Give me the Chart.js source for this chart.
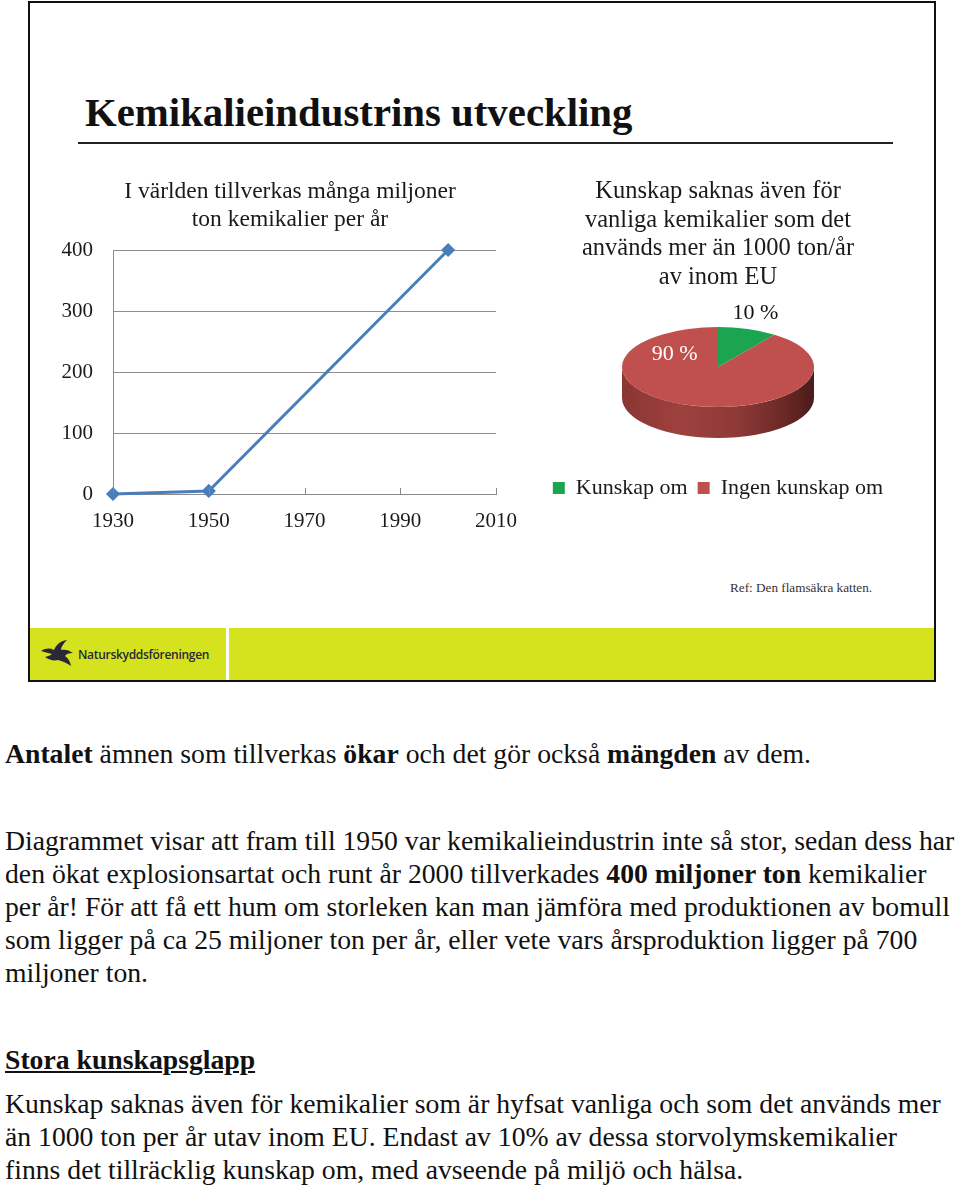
<!DOCTYPE html>
<html>
<head>
<meta charset="utf-8">
<script src="https://cdn.jsdelivr.net/npm/chart.js@4/dist/chart.umd.min.js"></script>
<style>
  html, body { margin:0; padding:0; background:#fff; width:960px; height:1187px; overflow:hidden; }
  .abs { position:absolute; }
  #slide { left:28px; top:1px; width:904px; height:677px; border:2px solid #111; }
  #title { left:85px; top:91px; font-family:"Liberation Serif", serif; font-weight:bold; font-size:40.8px; line-height:44px; color:#111; white-space:nowrap; }
  #rule { left:78px; top:142px; width:815px; height:2px; background:#222; }
  #ref { left:730px; top:580px; font-family:"Liberation Serif", serif; font-size:13.2px; color:#333; white-space:nowrap; }
  #footer { left:30px; top:628px; width:904px; height:52px; background:#d5e31e; }
  #sep { left:226px; top:628px; width:3px; height:52px; background:#fff; }
  #logoText { left:78px; top:646px; font-family:"Open Sans", sans-serif; font-weight:600; font-size:12px; letter-spacing:-0.3px; color:#2a2838; white-space:nowrap; }
  .txt { left:5px; font-family:"Liberation Serif", serif; font-size:27.7px; line-height:33px; color:#111; white-space:nowrap; }
</style>
</head>
<body>
<div id="slide" class="abs"></div>
<div id="title" class="abs">Kemikalieindustrins utveckling</div>
<div id="rule" class="abs"></div>
<canvas id="lineChart" class="abs" width="484" height="370" style="left:48px;top:170px;"></canvas>
<canvas id="pieChart" class="abs" width="360" height="339" style="left:538px;top:170px;"></canvas>
<div id="ref" class="abs">Ref: Den flamsäkra katten.</div>
<div id="footer" class="abs"></div>
<div id="sep" class="abs"></div>
<svg class="abs" style="left:40px;top:639px" width="36" height="30" viewBox="0 0 36 30">
  <path d="M1 12 C6 9 10 9 14 11 C16 6 20 2 27 1 C23 5 21 8 21 11 C25 10 29 11 33 14 C29 14 26 15 25 17 C28 19 30 22 31 27 C27 24 22 22 18 21 C14 22 9 21 5 18 C9 17 11 16 12 15 C8 14 4 13 1 12 Z" fill="#2a2838"/>
</svg>
<div id="logoText" class="abs">Naturskyddsföreningen</div>

<div class="abs txt" style="top:737px"><b>Antalet</b> ämnen som tillverkas <b>ökar</b> och det gör också <b>mängden</b> av dem.</div>
<div class="abs txt" style="top:824px">Diagrammet visar att fram till 1950 var kemikalieindustrin inte så stor, sedan dess har<br>den ökat explosionsartat och runt år 2000 tillverkades <b>400 miljoner ton</b> kemikalier<br>per år! För att få ett hum om storleken kan man jämföra med produktionen av bomull<br>som ligger på ca 25 miljoner ton per år, eller vete vars årsproduktion ligger på 700<br>miljoner ton.</div>
<div class="abs txt" style="top:1043px"><b><u>Stora kunskapsglapp</u></b></div>
<div class="abs txt" style="top:1087px">Kunskap saknas även för kemikalier som är hyfsat vanliga och som det används mer<br>än 1000 ton per år utav inom EU. Endast av 10% av dessa storvolymskemikalier<br>finns det tillräcklig kunskap om, med avseende på miljö och hälsa.</div>

<script>
// ---- data ----
const years = [1930, 1950, 2000];
const tonnes = [0, 5, 400];
const xTickValues = [1930, 1950, 1970, 1990, 2010];
const yTickValues = [0, 100, 200, 300, 400];
const lineTitle = ['I världen tillverkas många miljoner', 'ton kemikalier per år'];

const pieLabels = ['Kunskap om', 'Ingen kunskap om'];
const pieValues = [10, 90];
const pieTitle = ['Kunskap saknas även för', 'vanliga kemikalier som det', 'används mer än 1000 ton/år', 'av inom EU'];

const serif = 'Liberation Serif';

// inward tick marks on the x axis
const innerTicks = {
  id: 'innerTicks',
  afterDatasetsDraw(chart) {
    const xs = chart.scales.x, ctx = chart.ctx;
    const bottom = chart.chartArea.bottom;
    ctx.save();
    ctx.strokeStyle = '#888';
    ctx.lineWidth = 1;
    xs.ticks.forEach(t => {
      const px = Math.round(xs.getPixelForValue(t.value)) + 0.5;
      ctx.beginPath();
      ctx.moveTo(px, bottom);
      ctx.lineTo(px, bottom - 6);
      ctx.stroke();
    });
    ctx.restore();
  }
};

new Chart(document.getElementById('lineChart'), {
  type: 'line',
  data: {
    datasets: [{
      data: years.map((y, i) => ({ x: y, y: tonnes[i] })),
      borderColor: '#4a7ebb',
      backgroundColor: '#4a7ebb',
      pointBackgroundColor: '#4a7ebb',
      pointBorderColor: '#4a7ebb',
      borderWidth: 3,
      pointStyle: 'rectRot',
      pointRadius: 5,
      tension: 0,
      clip: false
    }]
  },
  options: {
    responsive: false,
    animation: false,
    devicePixelRatio: 1,
    layout: { padding: 0 },
    plugins: {
      legend: { display: false },
      tooltip: { enabled: false },
      title: {
        display: true,
        text: lineTitle,
        color: '#1a1a1a',
        font: { family: serif, size: 23.5, weight: 'normal', lineHeight: 28 / 23.5 },
        padding: { top: 8, bottom: 16 }
      }
    },
    scales: {
      x: {
        type: 'linear',
        min: 1930, max: 2010,
        afterBuildTicks: s => { s.ticks = xTickValues.map(v => ({ value: v })); },
        ticks: { color: '#1a1a1a', font: { family: serif, size: 21 }, padding: 15, maxRotation: 0, autoSkip: false, callback: v => String(v) },
        grid: { drawOnChartArea: false, drawTicks: false },
        border: { color: '#8a8a8a', width: 1 },
        afterFit: s => { s.height = 46; }
      },
      y: {
        min: 0, max: 400,
        afterBuildTicks: s => { s.ticks = yTickValues.map(v => ({ value: v })); },
        ticks: { color: '#1a1a1a', font: { family: serif, size: 21 }, padding: 20 },
        grid: { color: '#8e8e8e', drawTicks: false },
        border: { color: '#8a8a8a', width: 1 },
        afterFit: s => { s.width = 65; }
      }
    }
  },
  plugins: [innerTicks]
});

// 3D-looking pie: tilted top face + extruded side, driven by the arc elements
const pie3d = {
  id: 'pie3d',
  beforeDatasetsDraw(chart, args, opts) {
    const meta = chart.getDatasetMeta(0);
    const arcs = meta.data;
    if (!arcs.length) return;
    const area = chart.chartArea;
    const p0 = arcs[0].getProps(['x', 'y', 'outerRadius'], true);
    const cx = p0.x, cy = p0.y, r = p0.outerRadius;
    const k = opts.tilt, depth = opts.depth;
    const ey = area.top + r * k;
    chart.$pie3d = { cx, cy, r, k, ey };
    const ctx = chart.ctx;
    arcs.forEach((arc, i) => {
      const { startAngle: a0, endAngle: a1 } = arc.getProps(['startAngle', 'endAngle'], true);
      [-2 * Math.PI, 0, 2 * Math.PI].forEach(base => {
        const s = Math.max(a0, base), e = Math.min(a1, base + Math.PI);
        if (e > s) {
          ctx.save();
          ctx.beginPath();
          ctx.ellipse(cx, ey, r, r * k, 0, s, e, false);
          ctx.ellipse(cx, ey + depth, r, r * k, 0, e, s, true);
          ctx.closePath();
          const g = ctx.createLinearGradient(cx - r, 0, cx + r, 0);
          opts.sideStops[i].forEach(([p, c]) => g.addColorStop(p, c));
          ctx.fillStyle = g;
          ctx.fill();
          ctx.restore();
        }
      });
    });
    ctx.save();
    ctx.translate(0, ey);
    ctx.scale(1, k);
    ctx.translate(0, -cy);
  },
  afterDatasetsDraw(chart, args, opts) {
    const st = chart.$pie3d;
    if (!st) return;
    const ctx = chart.ctx;
    ctx.restore();
    const meta = chart.getDatasetMeta(0);
    const values = chart.data.datasets[0].data;
    ctx.save();
    ctx.font = '22px "' + serif + '"';
    ctx.textAlign = 'center';
    ctx.textBaseline = 'middle';
    meta.data.forEach((arc, i) => {
      const { startAngle: a0, endAngle: a1 } = arc.getProps(['startAngle', 'endAngle'], true);
      const L = opts.labels[i];
      const ang = a0 + (a1 - a0) * L.at;
      const px = st.cx + st.r * L.dist * Math.cos(ang);
      const py = st.ey + st.r * L.dist * st.k * Math.sin(ang);
      ctx.fillStyle = L.color;
      ctx.fillText(values[i] + ' %', px, py);
    });
    ctx.restore();
  }
};

new Chart(document.getElementById('pieChart'), {
  type: 'pie',
  data: {
    labels: pieLabels,
    datasets: [{
      data: pieValues,
      backgroundColor: ['#1ba550', '#c0504d'],
      borderWidth: 0,
      radius: 96,
      clip: false
    }]
  },
  options: {
    responsive: false,
    animation: false,
    devicePixelRatio: 1,
    layout: { padding: 0 },
    plugins: {
      tooltip: { enabled: false },
      title: {
        display: true,
        text: pieTitle,
        color: '#1a1a1a',
        font: { family: serif, size: 24.5, weight: 'normal', lineHeight: 28.5 / 24.5 },
        padding: { top: 7.5, bottom: 35.5 }
      },
      legend: {
        position: 'bottom',
        labels: { boxWidth: 12, boxHeight: 12, color: '#1a1a1a', font: { family: serif, size: 22 }, padding: 10 }
      },
      pie3d: {
        tilt: 0.4167,
        depth: 31,
        sideStops: [
          [[0, '#137a3a'], [1, '#0d5a2a']],
          [[0, '#8a3633'], [0.3, '#9e413e'], [0.6, '#8e3a37'], [0.85, '#6a2826'], [1, '#4a1b1a']]
        ],
        labels: [
          { at: 0.45, dist: 1.4, color: '#111' },
          { at: 0.83, dist: 0.55, color: '#fff' }
        ]
      }
    }
  },
  plugins: [pie3d]
});
</script>
</body>
</html>
